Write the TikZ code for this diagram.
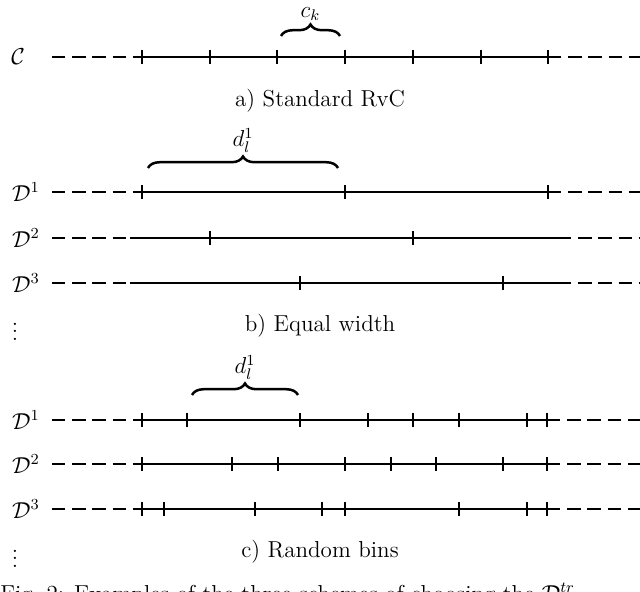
\documentclass[tikz,border=0pt]{standalone}
\usetikzlibrary{decorations.pathreplacing}
\begin{document}
\begin{tikzpicture}[x=0.52pt,y=-0.52pt,
  every node/.style={font=\large},
  solidline/.style={line width=1.2pt},
  dashline/.style={line width=1.2pt,dash pattern=on 7pt off 3.5pt},
  tick/.style={line width=1.2pt},
  brc/.style={decorate,decoration={brace,amplitude=6pt},line width=1.3pt},
  lab/.style={anchor=center}]
\useasboundingbox (0,0) rectangle (640,592);
\clip (0,0) rectangle (640,592);
% a)
\node[lab] (lc) at (18,57) {$\mathcal{C}$};
\coordinate (a0) at (52,57); \coordinate (a1) at (142,57); \coordinate (a2) at (548,57); \coordinate (a3) at (640,57);
\draw[dashline] (a0) -- (a1); \draw[solidline] (a1) -- (a2); \draw[dashline] (a2) -- (a3);
\foreach \x in {142,210,277,345,413,481,548} \draw[tick] (\x,50) -- (\x,64);
\draw[brc] (281,36) -- (340,36) node[midway,above=4pt] (ck) {$c_k$};
\node (capa) at (320,101) {a) Standard RvC};
% b)
\draw[brc] (148,168) -- (338,168) node[midway,above=4pt] (dl) {$d_l^1$};
\foreach \y/\n/\s/\e/\t in {192/1/142/548/{142,345,548},238/2/130/558/{210,413},283/3/130/558/{300,503}}{
  \node[lab] (lb\n) at (26,\y) {$\mathcal{D}^{\n}$};
  \draw[dashline] (52,\y) -- (\s,\y);
  \draw[solidline] (\s,\y) -- (\e,\y);
  \draw[dashline] (\e,\y) -- (640,\y);
  \foreach \x in \t \draw[tick] (\x,\y-7) -- (\x,\y+7);
}
\node (vb) at (15,326) {$\vdots$};
\node (capb) at (320,326) {b) Equal width};
% c)
\draw[brc] (192,395) -- (298,395) node[midway,above=4pt] (dl2) {$d_l^1$};
\foreach \y/\n/\t in {420/1/{142,187,300,368,413,459,527,547},464/2/{142,232,278,345,391,436,503,547},509/3/{142,164,255,322,345,459,527,547}}{
  \node[lab] (lc\n) at (26,\y) {$\mathcal{D}^{\n}$};
  \draw[dashline] (52,\y) -- (142,\y);
  \draw[solidline] (142,\y) -- (547,\y);
  \draw[dashline] (547,\y) -- (640,\y);
  \foreach \x in \t \draw[tick] (\x,\y-7) -- (\x,\y+7);
}
\node (vc) at (15,553) {$\vdots$};
\node (capc) at (320,552) {c) Random bins};
\node[anchor=north west,inner sep=0] (fig) at (0,583) {Fig.~2: Examples of the three schemes of choosing the $\mathcal{D}^{tr}$};
\end{tikzpicture}
\end{document}
